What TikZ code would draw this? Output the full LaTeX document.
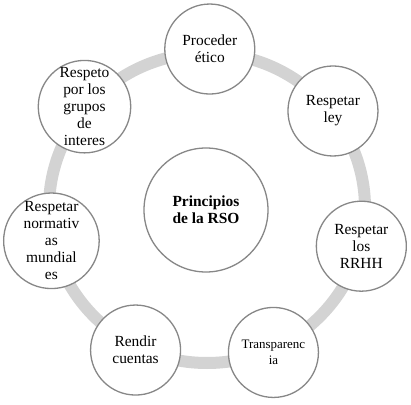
\documentclass[tikz,border=0pt]{standalone}
\usepackage{fontspec}
\setmainfont{Liberation Serif}
\usetikzlibrary{calc}
\definecolor{anillo}{RGB}{211,211,211}
\definecolor{borde}{RGB}{135,135,135}
\tikzset{
	principio/.style={circle, draw=borde, line width=1.3bp, fill=white,
			minimum size=90bp, inner sep=0pt, align=center,
			font=\fontsize{15.5}{17}\selectfont},
	centro/.style={principio, minimum size=124bp,
			font=\fontsize{15.5}{17}\selectfont\bfseries}
}

\begin{document}
\begin{tikzpicture}[x=1bp,y=1bp]
		\useasboundingbox (0,0) rectangle (411,405);
		\coordinate (c) at (207,197);
		\draw[anillo, line width=12bp] (c) ellipse [x radius=158, y radius=155];
		\node[centro] (rso) at (206,195) {Principios\\de la RSO};
		\node[principio] (etico) at ($(c)+(89:159)$) {Proceder\\ético};
		\node[principio] (ley) at ($(c)+(37.6:159)$) {Respetar\\ley};
		\node[principio] (rrhh) at ($(c)+(-13.9:159)$) {Respetar\\los\\RRHH};
		\node[principio, font=\fontsize{13}{16}\selectfont] (transp) at ($(c)+(-65.3:159)$) {Transparenc\\ia};
		\node[principio] (cuentas) at ($(c)+(-116.7:159)$) {Rendir\\cuentas};
		\node[principio] (normas) at ($(c)+(-168.1:159)$) {Respetar\\normativ\\as\\mundial\\es};
		\node[principio] (grupos) at ($(c)+(140.4:159)$) {Respeto\\por los\\grupos\\de\\interes};
	\end{tikzpicture}
\end{document}
